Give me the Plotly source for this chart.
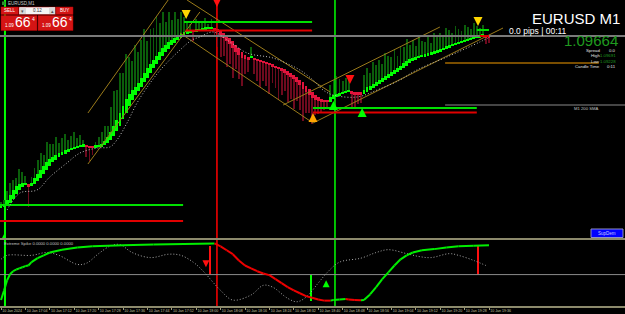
import plotly.graph_objects as go

# ---------------- data ----------------
BASE = 1.09  # prices stored as points (1e-5) above this base
close_pts = [
    326, 326, 336, 346, 356, 364, 368, 370, 370, 362,
    370, 380, 388, 396, 404, 412, 418, 422, 426, 430,
    432, 436, 438, 440, 442, 444, 444, 444, 442, 440,
    440, 442, 444, 448, 454, 462, 472, 484, 496, 510,
    524, 538, 548, 556, 562, 570, 580, 590, 600, 608,
    616, 624, 632, 640, 646, 652, 656, 660, 664, 668,
    672, 674, 674, 672, 674, 676, 678, 678, 678, 680,
    676, 672, 666, 660, 654, 648, 640, 632, 626, 620,
    618, 616, 622, 616, 614, 612, 610, 608, 606, 602,
    600, 598, 594, 590, 586, 582, 578, 572, 566, 558,
    552, 546, 540, 536, 534, 532, 532, 532, 542, 546,
    548, 550, 552, 554, 556, 548, 547, 547, 547, 556,
    562, 564, 568, 572, 576, 580, 584, 588, 592, 596,
    600, 604, 610, 614, 618, 620, 622, 624, 624, 626,
    628, 630, 632, 634, 638, 640, 644, 646, 648, 650,
    652, 654, 656, 658, 660, 662, 662, 664, 666, 660,
    661,
]
wick_pts = [
    6, 10, 18, 24, 20, 16, 30, 22, 14, 40, 12,
    20, 28, 34, 22, 40, 30, 26, 36, 20, 28, 32, 18, 24, 30, 16, 22, 12, 20, 26, 14, 10, 18, 24, 30, 22,
    50, 70, 60, 80, 66, 90, 74, 58, 84, 62, 76, 88, 54, 70, 64, 80, 58, 72, 46, 60, 40, 52, 34, 44, 30,
    20, 14, 18, 24, 16, 12, 22, 10, 18, 14,
    30, 44, 36, 52, 40, 60, 34, 48, 56, 30, 24, 20, 28, 40, 50, 36, 44, 58, 32, 40,
    62, 48, 36, 54, 44, 60, 38, 50, 64, 42, 36, 52, 30, 26, 20, 16,
    14, 24, 30, 36, 28, 22, 26, 20, 30, 24, 18, 16,
    30, 38, 26, 44, 34, 40, 28, 46, 36, 30, 42, 24, 38, 32, 44, 28, 36, 22, 40, 30,
    26, 34, 20, 38, 28, 32, 24, 36, 30, 22, 34, 26, 20, 30, 24, 18, 28, 22, 16, 20, 12, 10,
]

# moving average (dotted) in main window: bar index, points
ma_bar = [2, 6.2, 11.8, 16, 21.6, 25.9, 31.5, 35.7, 38, 41.3, 44.6, 48.9, 53.1, 58.7, 62.6, 65.2, 69.5,
          75.1, 80.7, 89.2, 94.8, 98, 102.3, 105.6, 108.9, 116.7, 123.3, 130.8, 135.1, 138.4, 146.2, 157, 159.7]
ma_pts = [316, 350, 356, 382, 410, 430, 440, 442, 456, 490, 530, 570, 602, 636, 656, 662, 672,
          652, 630, 620, 606, 596, 576, 556, 546, 542, 556, 576, 592, 602, 622, 652, 660]

# support / resistance segments (bar start, bar end, points)
zones_green = [(-0.5, 59.7, 326), (60, 102, 692), (102.3, 156, 520), (156, 160, 676)]
zones_red = [(-0.5, 59.7, 294), (60.5, 102, 675), (102.3, 156, 511), (157, 160, 664)]

# channels: (bar0, pts0, bar1, pts1)
channels = [
    (28.5, 510, 54.8, 736), (28.5, 408, 65.2, 712),
    (61, 736, 107.9, 552), (58.7, 670, 102.3, 490),
    (92.5, 526, 143.9, 682), (102.3, 490, 164.6, 680),
]

bid_pts = 664
sma200_pts = 526
brown_pts = 610

# signal arrows: bar, points, direction, colour
arrows = [
    (60.7, 698, "down", "#ffd700"), (70.8, 722, "down", "#ff1010"),
    (102.3, 510, "up", "#ffa500"), (114.4, 568, "down", "#ff1010"),
    (118.4, 520, "up", "#00ff00"), (156.4, 684, "down", "#ffd700"),
    (1.0, 268, "up", "#00ff00"), (109.0, 534, "up", "#00ff00"),
]
vlines = [(1.3, "#00ff00", 2), (70.8, "#ff0000", 1.5), (109.5, "#00ff00", 1.5)]

# indicator (Extreme Spike) main line
ind_bar = [0, 1, 2, 3, 4, 5, 6, 7, 8, 9, 10, 12, 14, 16, 20, 25, 30, 40, 50, 60, 70, 72, 74, 76, 78, 80, 82,
           84, 86, 88, 90, 92, 94, 96, 98, 100, 102, 104, 106, 108, 109, 111, 113, 114, 116, 118, 119, 121,
           123, 125, 127, 129, 131, 133, 135, 138, 142, 146, 150, 155, 160]
ind_val = [0, 17, 35, 46, 51, 54, 56, 58, 60, 61, 67, 74, 79, 84, 89, 93, 95, 97, 98, 99, 100, 95, 88, 81, 70,
           61, 56, 51, 47, 44, 37, 30, 23, 17, 12, 7, 4, 1, -1, -1, 0, 1, 2, 1, 0, -0.5, 0, 10, 23, 37, 49,
           61, 72, 79, 84, 88, 90, 93, 95, 96, 97]
# indicator signal line (dotted)
sig_bar = [0, 2, 10, 15, 19, 25, 28, 32, 36, 39, 43, 49, 55, 59, 63, 65, 67, 72, 76, 82, 86, 89, 94, 97,
           100, 104, 107, 111, 118, 123, 127, 133, 137, 141, 147, 150, 155, 159]
sig_val = [72, 79, 79, 84, 79, 63, 65, 82, 96, 98, 84, 75, 81, 79, 67, 58, 47, 17, 0, 9, 26, 23, 3, -3,
           5, 30, 49, 67, 74, 84, 89, 82, 77, 75, 82, 79, 70, 61]
ind_level = 45
spikes = [(68.5, 96, ind_level, "#ff1010"), (101.6, ind_level, 0, "#00ff00"), (156.4, 96, ind_level, "#ff1010")]
ind_arrows = [(67.2, 58, "down", "#ff1010"), (106.6, 35, "up", "#00ff00")]

tick_bars = list(range(0, 161, 8))
tick_text = ["10 Jan 2024"] + ["10 Jan %s" % t for t in [
    "17:04", "17:12", "17:20", "17:28", "17:36", "17:44", "17:52", "18:00", "18:08", "18:16",
    "18:24", "18:32", "18:40", "18:48", "18:56", "19:04", "19:12", "19:20", "19:28", "19:36"]]


def P(p):
    return BASE + p / 1e5


W, H_PLOT = 625, 306


def px(x):
    return x / W


def py(y):
    return (H_PLOT - y) / H_PLOT


# ---------------- figure ----------------
fig = go.Figure()
n = len(close_pts)
bars = list(range(n))
opens = [close_pts[0] - 6]
for i in range(1, n):
    opens.append((opens[-1] + close_pts[i - 1]) / 2)  # Heiken Ashi open

body_base, body_h, body_col = [], [], []
wick_base, wick_h, wick_col = [], [], []
for i in range(n):
    o, c = opens[i], close_pts[i]
    up = c >= o
    lo, hi = min(o, c), max(o, c)
    body_base.append(P(lo))
    body_h.append(max(hi - lo, 5) / 1e5)
    body_col.append("#00ff00" if up else "#e0143c")
    if up:
        wick_base.append(P(hi))
    else:
        wick_base.append(P(lo - wick_pts[i]))
    wick_h.append(wick_pts[i] / 1e5)
    wick_col.append("#0b5e0b" if up else "#6e0a1e")

XA = dict(xaxis="x", yaxis="y")
XB = dict(xaxis="x", yaxis="y2")

# channels
for b0, p0, b1, p1 in channels:
    fig.add_trace(go.Scatter(x=[b0, b1], y=[P(p0), P(p1)], mode="lines",
                             line=dict(color="#9b7b1a", width=1), hoverinfo="skip", **XA))
# level lines
fig.add_trace(go.Scatter(x=[-1, 210], y=[P(bid_pts)] * 2, mode="lines",
                         line=dict(color="#7a7a7a", width=2), **XA))
fig.add_trace(go.Scatter(x=[145.6, 210], y=[P(sma200_pts)] * 2, mode="lines",
                         line=dict(color="#8a8a8a", width=1), **XA))
fig.add_trace(go.Scatter(x=[145.6, 196], y=[P(brown_pts)] * 2, mode="lines",
                         line=dict(color="#7a4e00", width=2), **XA))
for b0, b1, p in zones_green:
    fig.add_trace(go.Scatter(x=[b0, b1], y=[P(p)] * 2, mode="lines",
                             line=dict(color="#00e000", width=2), **XA))
for b0, b1, p in zones_red:
    fig.add_trace(go.Scatter(x=[b0, b1], y=[P(p)] * 2, mode="lines",
                             line=dict(color="#e00000", width=2), **XA))
# MA
fig.add_trace(go.Scatter(x=ma_bar, y=[P(v) for v in ma_pts], mode="lines", line_shape="spline",
                         line=dict(color="#bdbdbd", width=1, dash="1px,2px"), **XA))
# candles
fig.add_trace(go.Bar(x=bars, y=wick_h, base=wick_base, marker_color=wick_col, width=0.28,
                     marker_line_width=0, **XA))
fig.add_trace(go.Bar(x=bars, y=body_h, base=body_base, marker_color=body_col, width=0.95,
                     marker_line_width=0, **XA))
# arrows
for b, p, d, col in arrows:
    fig.add_trace(go.Scatter(x=[b], y=[P(p)], mode="markers",
                             marker=dict(symbol="arrow-%s" % d, size=9, color=col, line_width=0), **XA))

# indicator
gx, gy, rx, ry = [], [], [], []
for i in range(len(ind_bar) - 1):
    seg_x = [ind_bar[i], ind_bar[i + 1], None]
    seg_y = [ind_val[i], ind_val[i + 1], None]
    if ind_val[i + 1] > ind_val[i]:
        gx += seg_x; gy += seg_y
    else:
        rx += seg_x; ry += seg_y
fig.add_trace(go.Scatter(x=[-1, 210], y=[ind_level] * 2, mode="lines",
                         line=dict(color="#8a8a8a", width=1), **XB))
fig.add_trace(go.Scatter(x=sig_bar, y=sig_val, mode="lines", line_shape="spline",
                         line=dict(color="#a8a8a8", width=1, dash="1px,2px"), **XB))
fig.add_trace(go.Scatter(x=gx, y=gy, mode="lines", line=dict(color="#00ee00", width=2), **XB))
fig.add_trace(go.Scatter(x=rx, y=ry, mode="lines", line=dict(color="#ee0000", width=2), **XB))
for b, top, bot, col in spikes:
    fig.add_trace(go.Bar(x=[b], y=[top - bot], base=[bot], marker_color=col, width=0.9,
                         marker_line_width=0, **XB))
for b, v, d, col in ind_arrows:
    fig.add_trace(go.Scatter(x=[b], y=[v], mode="markers",
                             marker=dict(symbol="arrow-%s" % d, size=7, color=col, line_width=0), **XB))

shapes = []
for b, col, w in vlines:
    shapes.append(dict(type="line", xref="x", yref="paper", x0=b, x1=b, y0=0, y1=1,
                       line=dict(color=col, width=w), layer="below"))
# panel separator
shapes.append(dict(type="line", xref="paper", yref="paper", x0=0, x1=1, y0=py(239), y1=py(239),
                   line=dict(color="#8c8a6c", width=2)))
# trading panel
RED = "#d41414"
for (x0, y0, x1, y1, col) in [(1, 7, 18.5, 14.5, RED), (19, 7, 55.5, 14.5, "#f4f4f4"),
                              (56, 7, 73, 14.5, RED), (1, 15.5, 37, 30.5, RED), (38, 15.5, 73, 30.5, RED)]:
    shapes.append(dict(type="rect", xref="paper", yref="paper", x0=px(x0), x1=px(x1),
                       y0=py(y1), y1=py(y0), fillcolor=col, line=dict(color="#b00000", width=0.5)))
shapes.append(dict(type="rect", xref="paper", yref="paper", x0=px(19.5), x1=px(26), y0=py(14), y1=py(7.5),
                   fillcolor="#d8d8d8", line_width=0))
shapes.append(dict(type="rect", xref="paper", yref="paper", x0=px(49), x1=px(55), y0=py(14), y1=py(7.5),
                   fillcolor="#d8d8d8", line_width=0))
shapes.append(dict(type="rect", xref="paper", yref="paper", x0=px(2), x1=px(5.5), y0=py(5), y1=py(1.5),
                   fillcolor="#2e8b2e", line_width=0))
# SupDem button
shapes.append(dict(type="rect", xref="paper", yref="paper", x0=px(591), x1=px(623), y0=py(237.5),
                   y1=py(229), fillcolor="#0000ff", line=dict(color="#9090c0", width=1)))

ann = []


def T(x, y, s, size, color="#ffffff", xa="left", family="Liberation Sans"):
    ann.append(dict(x=px(x), y=py(y), xref="paper", yref="paper", text=s, showarrow=False,
                    xanchor=xa, yanchor="middle", font=dict(size=size, color=color, family=family),
                    borderpad=0))


T(7, 3.2, "EURUSD,M1", 4.5, "#c8c8c8")
T(9.8, 11, "SELL", 4.5, "#ffffff", "center")
T(64.5, 11, "BUY", 4.5, "#ffffff", "center")
T(37, 11, "0.12", 4.5, "#333333", "center")
T(22.7, 11, "▾", 5, "#555555", "center")
T(52, 11, "▴", 5, "#555555", "center")
for xo in (0, 37):
    T(4 + xo, 25, "1.09", 4.5, "#ffffff")
    T(13.5 + xo, 22.5, "66", 14, "#ffffff")
    T(31 + xo, 18.5, "4", 5, "#ffffff")
T(621, 18, "EURUSD M1", 15, "#ffffff", "right")
T(568, 31.5, "0.0 pips | 00:11", 8.5, "#ffffff", "right")
T(619, 40.5, "1.09664", 15, "#1f9a1f", "right")
for yy, lab, val, vcol in [(50.5, "Spread", "0.0", "#e0e0e0"), (55.8, "High", "1.09691", "#1f9a1f"),
                           (61.1, "Low", "1.09228", "#1f9a1f"), (66.4, "Candle Time", "0:11", "#e0e0e0")]:
    T(600.5, yy, lab, 4.3, "#e0e0e0", "right")
    T(617, yy, val, 4.3, vcol, "right")
T(573, 108.5, "M1 200 SMA", 4.2, "#c0c0c0")
T(3, 243.5, "Extreme Spike 0.0000 0.0000 0.0000", 4.2, "#c0c0c0")
T(607, 233.3, "SupDem", 4.5, "#c8c8ff", "center")

XR = [-1 / 3.05, 624 / 3.05]
fig.update_layout(
    width=625, height=314, margin=dict(l=0, r=0, t=0, b=8, autoexpand=False),
    paper_bgcolor="#000000", plot_bgcolor="#000000",
    showlegend=False, barmode="overlay", bargap=0,
    xaxis=dict(range=XR, domain=[0, 1], anchor="y2", showgrid=False, zeroline=False,
               automargin=False, tickangle=0,
               tickmode="array", tickvals=tick_bars, ticktext=tick_text,
               ticklabelposition="outside right", ticks="outside", ticklen=2, tickcolor="#a09a78",
               tickfont=dict(size=3.6, color="#c4c0a0", family="Liberation Sans"),
               showline=True, linecolor="#8c8a6c", linewidth=1.5),
    yaxis=dict(range=[P(260), P(736)], domain=[py(238), 1], showgrid=False, zeroline=False,
               showticklabels=False, ticks="", automargin=False),
    yaxis2=dict(range=[-10.5, 107], domain=[0, py(239.5)], showgrid=False, zeroline=False,
                showticklabels=False, ticks="", automargin=False),
    shapes=shapes, annotations=ann,
)
fig.write_html("out.html", config={"displayModeBar": False})
